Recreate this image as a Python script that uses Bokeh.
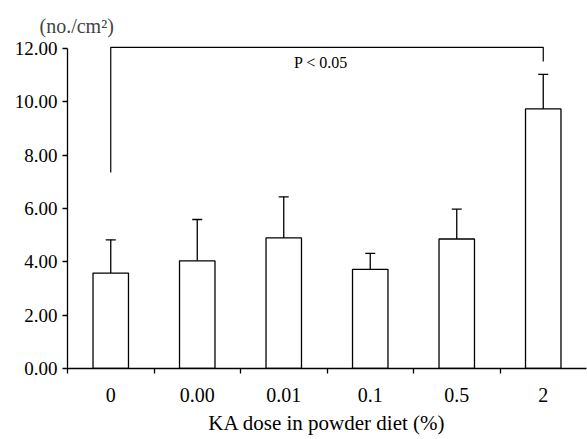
from bokeh.plotting import figure
from bokeh.models import Range1d, FixedTicker, Whisker, ColumnDataSource, TeeHead, Title
from bokeh.embed import file_html
from bokeh.resources import INLINE
from bokeh.core.properties import value

# ---- data ----
categories = ["0", "0.00", "0.01", "0.1", "0.5", "2"]
means = [3.58, 4.04, 4.90, 3.72, 4.86, 9.74]
errors = [1.25, 1.55, 1.54, 0.60, 1.12, 1.30]
y_ticks = [0, 2, 4, 6, 8, 10, 12]
y_tick_labels = ["0.00", "2.00", "4.00", "6.00", "8.00", "10.00", "12.00"]
bracket_groups = [0, 5]          # indices of compared groups
bracket_top = 12.05
bracket_left_bottom = 7.35
bracket_right_bottom = 11.52
p_text = "P < 0.05"
p_text_pos = (2.93, 11.47)
y_unit = "(no./cm²)"
x_title = "KA dose in powder diet (%)"

xs = [i + 0.5 for i in range(len(categories))]
uppers = [m + e for m, e in zip(means, errors)]

SERIF = "Liberation Serif"

p = figure(width=587, height=439, output_backend="svg", toolbar_location=None,
           x_range=Range1d(0, len(categories)), y_range=Range1d(0, 12.42),
           min_border_left=67, min_border_right=1, min_border_top=37, min_border_bottom=71)
p.title = Title(text=y_unit, align="left", offset=-28, standoff=1,
                text_font=SERIF, text_font_size="20px", text_font_style="normal")
p.xgrid.visible = False
p.ygrid.visible = False
p.outline_line_color = None
p.background_fill_color = "white"

src = ColumnDataSource(dict(x=xs, top=means, upper=uppers))
p.vbar(x="x", top="top", bottom=0, width=0.41, source=src,
       fill_color="white", line_color="black", line_width=1.3)
wh = Whisker(source=src, base="x", lower="top", upper="upper", dimension="height",
             lower_head=None, upper_head=TeeHead(size=10, line_width=1.3, line_color="black"),
             line_width=1.3, line_color="black")
p.add_layout(wh)

bx0 = xs[bracket_groups[0]]
bx1 = xs[bracket_groups[1]]
p.line(x=[bx0, bx0, bx1, bx1],
       y=[bracket_left_bottom, bracket_top, bracket_top, bracket_right_bottom],
       line_color="black", line_width=1.2)
p.text(x=[p_text_pos[0]], y=[p_text_pos[1]], text=[p_text], text_align="center",
       text_baseline="middle", text_font=value(SERIF), text_font_size="16px",
       text_color="black")

# y axis
ya = p.yaxis[0]
ya.ticker = FixedTicker(ticks=y_ticks)
ya.major_label_overrides = {t: l for t, l in zip(y_ticks, y_tick_labels)}
ya.bounds = (0, 12)
ya.major_tick_in = 0
ya.major_tick_out = 5
ya.minor_tick_line_color = None
ya.major_label_standoff = 5
ya.major_label_text_font = SERIF
ya.major_label_text_font_size = "19px"
ya.major_label_text_color = "black"
ya.axis_line_width = 1.3
ya.axis_line_color = "black"
ya.major_tick_line_width = 1.3

# x axis
xa = p.xaxis[0]
xa.ticker = FixedTicker(ticks=xs, minor_ticks=list(range(len(categories))))
xa.major_label_overrides = {x: c for x, c in zip(xs, categories)}
xa.major_tick_line_color = None
xa.major_tick_in = 0
xa.major_tick_out = 0
xa.minor_tick_in = 0
xa.minor_tick_out = 5
xa.minor_tick_line_width = 1.3
xa.minor_tick_line_color = "black"
xa.major_label_standoff = 14
xa.major_label_text_font = SERIF
xa.major_label_text_font_size = "20px"
xa.major_label_text_color = "black"
xa.axis_line_width = 1.3
xa.axis_line_color = "black"
xa.axis_label = x_title
xa.axis_label_text_font = SERIF
xa.axis_label_text_font_size = "21px"
xa.axis_label_text_font_style = "normal"
xa.axis_label_text_color = "black"
xa.axis_label_standoff = 6

open("out.html", "w").write(file_html(p, INLINE))
